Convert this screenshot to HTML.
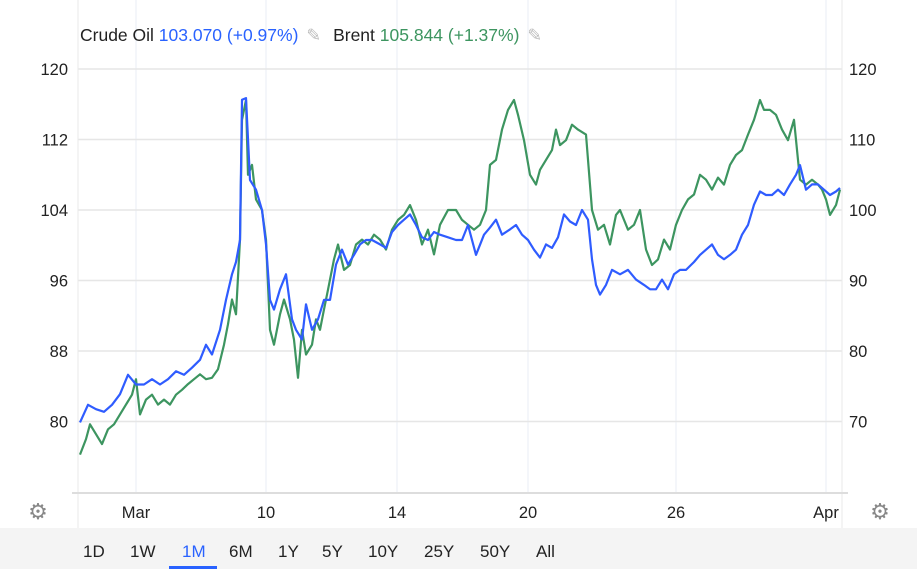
<!DOCTYPE html>
<html><head><meta charset="utf-8"><style>
body{margin:0;width:917px;height:569px;overflow:hidden;background:#fff;font-family:"Liberation Sans",sans-serif}
#toolbar{position:absolute;left:0;top:528px;width:917px;height:41px;background:#f4f4f4}
.tb{position:absolute;top:14px;font-size:17px;color:#222;cursor:pointer}
</style></head><body>
<svg id="chart" width="917" height="528" style="position:absolute;left:0;top:0"></svg>
<div id="toolbar">
<span class="tb" style="left:83px">1D</span>
<span class="tb" style="left:130px">1W</span>
<span class="tb" style="left:182px;color:#2962ff">1M</span>
<div style="position:absolute;left:169px;top:38px;width:48px;height:3px;background:#2962ff"></div>
<span class="tb" style="left:229px">6M</span>
<span class="tb" style="left:278px">1Y</span>
<span class="tb" style="left:322px">5Y</span>
<span class="tb" style="left:368px">10Y</span>
<span class="tb" style="left:424px">25Y</span>
<span class="tb" style="left:480px">50Y</span>
<span class="tb" style="left:536px">All</span>
</div>
<script>
const leftTicks=[80,88,96,104,112,120];
const rightTicks=[70,80,90,100,110,120];
const xLabels=["Mar","10","14","20","26","Apr"];
const xLabelTicks=[56,186,317,448,596,746];
const crudeT=[0,8,16,24,32,40,48,56,64,72,80,88,96,104,112,120,126,132,140,146,152,156,160,162,166,170,176,182,186,190,194,200,206,212,216,222,226,232,238,244,250,256,262,268,274,280,286,292,300,306,312,318,324,330,336,342,348,354,360,368,376,382,388,396,404,410,416,422,430,436,442,448,454,460,466,472,478,484,490,496,502,508,512,516,520,526,532,540,548,556,564,570,576,582,588,594,600,606,614,620,626,632,638,644,650,656,662,668,674,680,686,692,698,704,710,716,720,726,732,738,744,750,756,760];
const crude=[79.9,81.9,81.4,81.1,81.9,83.1,85.3,84.2,84.2,84.8,84.2,84.8,85.7,85.3,86.1,87.0,88.7,87.6,90.4,93.8,96.7,98.1,100.6,116.5,116.7,107.4,106.3,104.0,100.1,93.8,92.7,95.0,96.7,91.6,90.4,89.3,93.3,90.4,91.6,93.8,93.8,97.8,99.5,97.8,98.9,100.1,100.6,100.6,100.1,99.7,101.5,102.3,102.9,103.5,102.3,100.9,100.6,101.5,101.2,100.9,100.6,100.6,102.3,98.9,101.2,102.0,102.9,101.2,101.8,102.3,101.2,100.6,99.5,98.6,100.1,99.7,100.9,103.5,102.7,102.3,104.0,102.9,98.4,95.5,94.4,95.5,97.2,96.7,97.2,96.1,95.5,95.0,95.0,96.1,95.0,96.7,97.2,97.2,98.1,98.9,99.5,100.1,98.9,98.4,98.9,99.5,101.2,102.3,104.6,106.1,105.7,105.7,106.3,105.7,106.9,108.0,109.1,106.3,106.9,106.9,106.3,105.7,106.1,106.5];
const brentT=[0,6,10,16,22,28,34,40,46,52,56,60,66,72,78,84,90,96,102,108,114,120,126,132,138,144,148,152,156,160,162,166,168,172,176,182,186,190,194,200,204,210,214,218,222,226,232,236,240,244,248,254,258,264,270,276,282,288,294,300,306,312,318,324,330,336,342,348,354,360,368,376,382,388,394,400,406,410,416,422,428,434,438,444,450,456,460,466,472,476,480,486,492,498,506,512,518,524,530,536,540,548,554,560,566,572,578,584,590,596,602,608,614,620,626,632,638,644,650,656,662,668,674,680,684,690,696,702,708,714,718,720,726,732,738,742,746,750,756,760];
const brent=[65.3,67.5,69.6,68.2,66.8,68.9,69.6,71.0,72.4,73.8,76.0,71.0,73.1,73.8,72.4,73.1,72.4,73.8,74.5,75.3,76.0,76.7,76.0,76.2,77.4,80.9,83.8,87.3,85.2,95.8,112.8,115.6,105.0,106.4,101.5,100.0,95.8,83.0,80.9,85.2,87.3,84.5,81.6,76.2,83.0,79.5,80.9,84.5,83.0,85.9,88.7,93.0,95.1,91.5,92.2,95.1,95.8,95.1,96.5,95.8,94.4,97.2,98.6,99.3,100.7,98.6,95.1,97.2,93.7,97.9,100.0,100.0,98.6,97.9,97.2,97.9,100.0,106.4,107.1,111.4,114.2,115.6,113.5,109.9,105.0,103.6,105.7,107.1,108.5,111.4,109.2,109.9,112.1,111.4,110.7,100.0,97.2,97.9,95.1,99.3,100.0,97.2,97.9,100.0,94.4,92.2,93.0,95.8,94.4,97.9,100.0,101.5,102.2,105.0,104.3,102.9,104.6,103.6,106.4,107.8,108.5,110.7,112.8,115.6,114.2,114.2,113.5,111.4,109.9,112.8,107.1,104.3,103.6,104.3,103.6,102.9,101.5,99.3,100.7,102.9];

const NS="http://www.w3.org/2000/svg";
const svg=document.getElementById('chart');
function mk(tag,attrs,parent){const e=document.createElementNS(NS,tag);for(const k in attrs)e.setAttribute(k,attrs[k]);(parent||svg).appendChild(e);return e;}
const X0=80,X1=840;
function xS(t){return X0+t*(X1-X0)/760;}
function yL(v){return 69+(120-v)*(352.5/40);}
function yR(v){return 69+(120-v)*(352.5/50);}

for(let i=0;i<xLabelTicks.length;i++){
  const l=mk('line',{x1:xS(xLabelTicks[i]),x2:xS(xLabelTicks[i]),y1:0,y2:493,stroke:'#e8eef5','stroke-width':1});
  
  
}
for(let i=0;i<leftTicks.length;i++){
  const y=yL(leftTicks[i]);
  const g=mk('line',{x1:78,x2:842,y1:y,y2:y,stroke:'#e6e6e6','stroke-width':1.5});
  
  
  const t=mk('text',{x:68,y:y+6,'text-anchor':'end','font-size':16.5,fill:'#222'});
  t.textContent=leftTicks[i];
  
  
}
for(let i=0;i<rightTicks.length;i++){
  const y=yR(rightTicks[i]);
  const t=mk('text',{x:849,y:y+6,'font-size':16.5,fill:'#222'});
  t.textContent=rightTicks[i];
  
  
}
mk('line',{x1:78,x2:78,y1:0,y2:528,stroke:'#eaeaea'});
mk('line',{x1:842,x2:842,y1:0,y2:528,stroke:'#eaeaea'});
const ax=mk('line',{x1:72,x2:848,y1:493,y2:493,stroke:'#ddd','stroke-width':2});


for(let i=0;i<xLabels.length;i++){
  const t=mk('text',{x:xS(xLabelTicks[i]),y:518,'text-anchor':'middle','font-size':16.5,fill:'#222'});
  t.textContent=xLabels[i];
  
  
}
function line(T,V,yf,color,name){
  let d='';for(let i=0;i<T.length;i++)d+=(i?'L':'M')+xS(T[i]).toFixed(1)+' '+yf(V[i]).toFixed(1);
  const p=mk('path',{d:d,fill:'none',stroke:color,'stroke-width':2.2,'stroke-linejoin':'round'});
  
  
}
line(brentT,brent,yR,'#3d9560','brent-line');
line(crudeT,crude,yL,'#2f5cff','crude-oil-line');

const lg=mk('text',{x:80,y:41,'font-size':17.5});


lg.innerHTML='<tspan fill="#222">Crude Oil </tspan><tspan fill="#2962ff">103.070 (+0.97%)</tspan><tspan fill="#bbb" dx="8">✎</tspan><tspan fill="#222" dx="12">Brent </tspan><tspan fill="#3d9560">105.844 (+1.37%)</tspan><tspan fill="#bbb" dx="8">✎</tspan>';
[[38,511,'left-settings-gear'],[880,511,'right-settings-gear']].forEach(g=>{
  const t=mk('text',{x:g[0],y:g[1]+8,'text-anchor':'middle','font-size':22,fill:'#888'});
  t.textContent='⚙';
  
  
});
</script>
</body></html>
